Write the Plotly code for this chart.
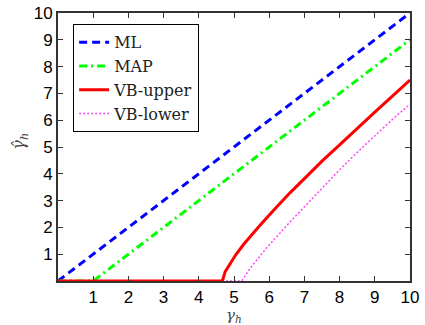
import plotly.graph_objects as go

# ML estimator
ml_x = [0, 10]
ml_y = [0, 10]
# MAP estimator
map_x = [0, 1.0, 10]
map_y = [0, 0, 9.0]
# VB upper
vbu_x = [0, 4.67, 4.75, 4.89, 5.05, 5.27, 5.5, 5.74, 6.1, 6.59, 7.0, 7.5, 8.0, 8.5, 9.0, 9.5, 10]
vbu_y = [0, 0, 0.35, 0.64, 0.98, 1.36, 1.73, 2.08, 2.6, 3.29, 3.82, 4.47, 5.08, 5.7, 6.3, 6.9, 7.5]
# VB lower
vbl_x = [0, 5.22, 5.45, 5.93, 6.59, 7.16, 8.0, 8.5, 9.0, 9.5, 10]
vbl_y = [0, 0, 0.46, 1.24, 2.2, 2.99, 4.15, 4.8, 5.43, 6.03, 6.6]

tick_vals = [1, 2, 3, 4, 5, 6, 7, 8, 9, 10]
tick_text = ["1", "2", "3", "4", "5", "6", "7", "8", "9", "10"]

fig = go.Figure()
fig.add_trace(go.Scatter(x=ml_x, y=ml_y, mode="lines", name="ML",
                         line=dict(color="#0000ff", width=3, dash="8px,5px")))
fig.add_trace(go.Scatter(x=map_x, y=map_y, mode="lines", name="MAP",
                         line=dict(color="#00ff00", width=3, dash="8px,4px,2px,4px")))
fig.add_trace(go.Scatter(x=vbl_x, y=vbl_y, mode="lines", name="VB-lower",
                         line=dict(color="#ff44ff", width=1.5, dash="2px,2px"), showlegend=False))
fig.add_trace(go.Scatter(x=vbu_x, y=vbu_y, mode="lines", name="VB-upper",
                         line=dict(color="#ff0000", width=3)))
fig.add_trace(go.Scatter(x=[None], y=[None], mode="lines", name="VB-lower",
                         line=dict(color="#ff44ff", width=1.5, dash="2px,2px")))

axis_common = dict(
    range=[0, 10], tickvals=tick_vals, ticktext=tick_text,
    ticks="inside", ticklen=5, tickcolor="#333333", tickwidth=1,
    showline=True, linecolor="#333333", linewidth=2, mirror="ticks",
    showgrid=False, zeroline=False, ticklabeloverflow="allow",
    tickfont=dict(family="Liberation Sans, Arial, sans-serif", size=17, color="#000000"),
)

fig.update_layout(
    width=425, height=325,
    margin=dict(l=58, r=15, t=4, b=44),
    paper_bgcolor="white", plot_bgcolor="white",
    xaxis=dict(**axis_common),
    yaxis=dict(**axis_common),
    showlegend=True,
    legend=dict(x=0.043, y=0.958, xanchor="left", yanchor="top",
                bordercolor="#000000", borderwidth=1, bgcolor="white",
                font=dict(family="DejaVu Serif, serif", size=16, color="#222222"),
                tracegroupgap=4),
    annotations=[
        dict(text="<i>γ</i><sub><i>h</i></sub>", x=0.5, y=0, xref="paper", yref="paper",
             xanchor="center", yanchor="top", yshift=-23, showarrow=False,
             font=dict(family="DejaVu Serif, serif", size=15, color="#444444")),
        dict(text="<i>γ̂</i><sub><i>h</i></sub>", x=0, y=0.52, xref="paper", yref="paper",
             xanchor="center", yanchor="middle", xshift=-38, showarrow=False, textangle=-90,
             font=dict(family="DejaVu Serif, serif", size=16, color="#444444")),
    ],
)

fig.write_html("out.html", config={"displayModeBar": False},
               post_script="document.body.style.margin='0';document.body.style.overflow='hidden';")
